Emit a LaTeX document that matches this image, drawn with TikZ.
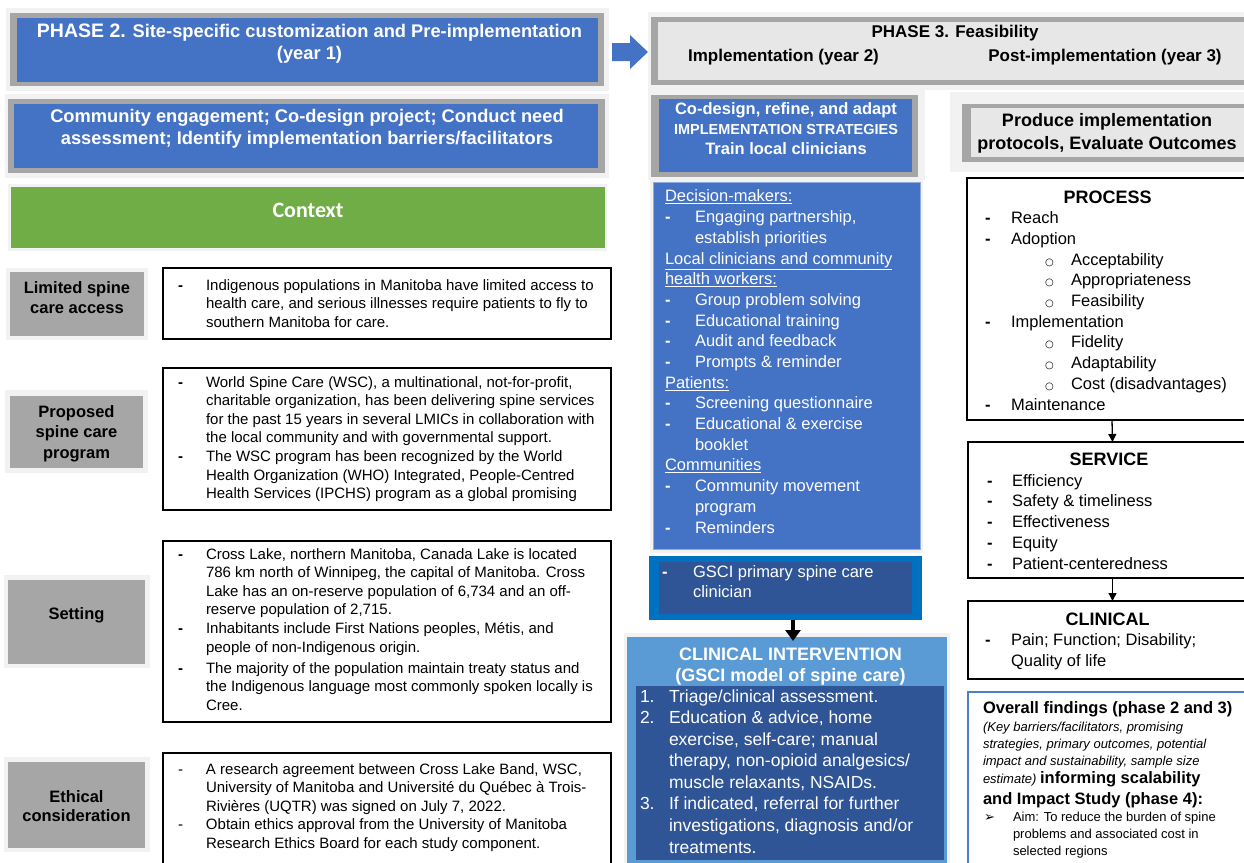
\documentclass[tikz,border=0pt]{standalone}
\usepackage{fontspec}
\setmainfont{Liberation Sans}
\newfontfamily\dejavu{DejaVu Sans}
\newfontfamily\carlito{Carlito}
\usetikzlibrary{fit,arrows.meta}
\definecolor{blueA}{HTML}{4472C4}
\definecolor{grayB}{HTML}{A6A6A6}
\definecolor{lightA}{HTML}{F2F2F2}
\definecolor{phgray}{HTML}{E7E7E7}
\definecolor{greenA}{HTML}{70AD47}
\definecolor{gsciout}{HTML}{0070C0}
\definecolor{darkB}{HTML}{2F5597}
\definecolor{clinB}{HTML}{5B9BD5}
\definecolor{ovb}{HTML}{4A7FD0}
\newcommand{\dl}[2][28pt]{\makebox[#1][l]{\textbf{-}}#2}
\newcommand{\dlt}[2][28pt]{\makebox[#1][l]{-}#2}
\newcommand{\cl}[2][28pt]{\hspace*{#1}#2}
\newcommand{\circsym}{{\dejavu\fontsize{10}{10}\selectfont ○}}
\newcommand{\subl}[1]{\hspace*{60pt}\makebox[26pt][l]{\circsym}#1}
\begin{document}
\begin{tikzpicture}[x=1pt,y=-1pt,
  box/.style={inner sep=0pt,outer sep=0pt},
  tx/.style={inner sep=0pt,outer sep=0pt,anchor=base west,align=left},
  tc/.style={inner sep=0pt,outer sep=0pt,anchor=base,align=center},
  wbox/.style={box,draw=black,line width=1.3pt,fill=white},
  f15/.style={tx,font=\fontsize{15}{18.6}\selectfont},
  lab/.style={tc,font=\bfseries\fontsize{16.5}{20.5}\selectfont},
  hdw/.style={tc,text=white,font=\bfseries\fontsize{18.3}{22}\selectfont},
  hdk/.style={tc,text=black,font=\bfseries\fontsize{17}{24}\selectfont},
  arr/.style={-{Triangle[width=8pt,length=8pt]},line width=1.3pt},
]
\useasboundingbox (0,0) rectangle (1244,862);
\clip (0,0) rectangle (1244,862);
\fill[white] (0,0) rectangle (1244,862);

% (text nodes are anchored at the baseline of their LAST line)

% ---------- Phase 2 header
\node[box,fill=lightA,fit={(6,8)(609,91)}] (p2o) {};
\node[box,fill=grayB,fit={(10,13)(604,86)}] (p2g) {};
\node[box,fill=blueA,fit={(17,18)(598,82)}] (p2) {};
\node[hdw] (p2t) at (309.5,59) {{\fontsize{19.5}{22}\selectfont PHASE 2.} Site-specific customization and Pre-implementation\\(year 1)};

% block arrow
\fill[blueA] (612,43) -- (630,43) -- (630,35) -- (648,52) -- (630,69) -- (630,61) -- (612,61) -- cycle;

% ---------- Community engagement
\node[box,fill=lightA,fit={(5,94)(609,178)}] (ceo) {};
\node[box,fill=grayB,fit={(8,99)(605,173)}] (ceg) {};
\node[box,fill=blueA,fit={(14,104)(598,168)}] (ce) {};
\node[hdw] (cet) at (307,144) {Community engagement; Co-design project; Conduct need\\assessment; Identify implementation barriers/facilitators};

% ---------- Context
\node[box,fill=lightA,fit={(8,184)(607,251)}] (cxo) {};
\node[box,fill=greenA,fit={(11,187)(605,248)}] (cx) {};
\node[tc,text=white,font=\carlito\bfseries\fontsize{22}{26}\selectfont] (cxt) at (308,217) {Context};

% ---------- Left labels
\node[box,fill=lightA,fit={(6,268)(148,340)}] (l1o) {};
\node[box,fill=grayB,fit={(10,272)(144,336)}] (l1) {};
\node[lab] (l1t) at (77,313.5) {Limited spine\\care access};
\node[box,fill=lightA,fit={(5,390)(148,473)}] (l2o) {};
\node[box,fill=grayB,fit={(10,396)(143,468)}] (l2) {};
\node[lab] (l2t) at (76.5,458) {Proposed\\spine care\\program};
\node[box,fill=lightA,fit={(4,575)(150,668)}] (l3o) {};
\node[box,fill=grayB,fit={(8,580)(145,664)}] (l3) {};
\node[lab] (l3t) at (76.5,619) {Setting};
\node[box,fill=lightA,fit={(4,757)(150,852)}] (l4o) {};
\node[box,fill=grayB,fit={(8,762)(145,848)}] (l4) {};
\node[lab,font=\bfseries\fontsize{16.5}{19.5}\selectfont] (l4t) at (76.5,821.5) {Ethical\\consideration};

% ---------- Left text boxes
\node[wbox,fit={(163,268)(611,339)}] (tb1) {};
\node[f15] (tb1t) at (178,327.2) {\dl{Indigenous populations in Manitoba have limited access to}\\
\cl{health care, and serious illnesses require patients to fly to}\\
\cl{southern Manitoba for care.}};
\node[wbox,fit={(163,368)(611,510)}] (tb2) {};
\node[f15] (tb2t) at (178,498.6) {\dl{World Spine Care (WSC), a multinational, not-for-profit,}\\
\cl{charitable organization, has been delivering spine services}\\
\cl{for the past 15 years in several LMICs in collaboration with}\\
\cl{the local community and with governmental support.}\\
\dl{The WSC program has been recognized by the World}\\
\cl{Health Organization (WHO) Integrated, People-Centred}\\
\cl{Health Services (IPCHS) program as a global promising}};
\node[wbox,fit={(163,541)(611,722)}] (tb3) {};
\node[f15] (tb3t) at (178,710.3) {\dl{Cross Lake, northern Manitoba, Canada Lake is located}\\
\cl{786 km north of Winnipeg, the capital of Manitoba. Cross}\\
\cl{Lake has an on-reserve population of 6,734 and an off-}\\
\cl{reserve population of 2,715.}\\
\dl{Inhabitants include First Nations peoples, Métis, and}\\
\cl{people of non-Indigenous origin.}\\[2.5pt]
\dl{The majority of the population maintain treaty status and}\\
\cl{the Indigenous language most commonly spoken locally is}\\
\cl{Cree.}};
\node[wbox,fit={(163,753)(611,870)}] (tb4) {};
\node[f15] (tb4t) at (178,848.4) {\dlt{A research agreement between Cross Lake Band, WSC,}\\
\cl{University of Manitoba and Université du Québec à Trois-}\\
\cl{Rivières (UQTR) was signed on July 7, 2022.}\\
\dlt{Obtain ethics approval from the University of Manitoba}\\
\cl{Research Ethics Board for each study component.}};

% ---------- Phase 3 header
\node[box,fill=lightA,fit={(648,12)(1250,90)}] (p3o) {};
\node[box,fill=grayB,fit={(651,17)(1250,85)}] (p3g) {};
\node[box,fill=phgray,fit={(658,22)(1250,80)}] (p3) {};
\node[hdk] (p3t) at (955,37) {PHASE 3. Feasibility};
\node[hdk] (p3a) at (783.5,61) {Implementation (year 2)};
\node[hdk] (p3b) at (1105,61) {Post-implementation (year 3)};

% ---------- Co-design box
\node[box,fill=lightA,fit={(648,90)(925,180)}] (cdo) {};
\node[box,fill=grayB,fit={(651,95)(918,177)}] (cdg) {};
\node[box,fill=blueA,fit={(659,99)(912,172)}] (cd) {};
\node[tc,text=white,font=\bfseries\fontsize{16.5}{20}\selectfont] (cdt) at (786,154)
  {Co-design, refine, and adapt\\{\fontsize{14.5}{20}\selectfont IMPLEMENTATION STRATEGIES}\\Train local clinicians};

% ---------- Produce box
\node[box,fill=lightA,fit={(950,92)(1250,172)}] (pro) {};
\node[box,fill=grayB,fit={(962,104)(1250,162)}] (prg) {};
\node[box,fill=phgray,fit={(971,108)(1250,157)}] (pr) {};
\node[tc,font=\bfseries\fontsize{18}{23}\selectfont] (prt) at (1107,149) {Produce implementation\\protocols, Evaluate Outcomes};

% ---------- Strategies box
\node[box,fill=lightA,fit={(650,178)(923,553)}] (sto) {};
\node[box,fill=blueA,draw=blueA!60!white,line width=0.8pt,fit={(653,182)(920,549)}] (st) {};
\node[tx,text=white,font=\fontsize{16.5}{20.69}\selectfont] (stt) at (665,533)
{\underline{Decision-makers:}\\
\dl[30pt]{Engaging partnership,}\\
\cl[30pt]{establish priorities}\\
\underline{Local clinicians and community}\\
\underline{health workers:}\\
\dl[30pt]{Group problem solving}\\
\dl[30pt]{Educational training}\\
\dl[30pt]{Audit and feedback}\\
\dl[30pt]{Prompts \& reminder}\\
\underline{Patients:}\\
\dl[30pt]{Screening questionnaire}\\
\dl[30pt]{Educational \& exercise}\\
\cl[30pt]{booklet}\\
\underline{Communities}\\
\dl[30pt]{Community movement}\\
\cl[30pt]{program}\\
\dl[30pt]{Reminders}};

% ---------- GSCI box
\node[box,fill=gsciout,fit={(649,556)(922,620)}] (gsci) {};
\node[box,fill=darkB,fit={(659,562)(912,614)}] (gscii) {};
\node[tx,text=white,font=\fontsize{16.5}{20}\selectfont] (gscit) at (662,597)
{\dl[31pt]{GSCI primary spine care}\\\cl[31pt]{clinician}};

% ---------- Clinical intervention
\node[box,fill=lightA,fit={(624,633)(950,870)}] (cio) {};
\node[box,fill=clinB,fit={(627,637)(947,870)}] (ci) {};
\node[box,fill=darkB,fit={(636,686)(944,860)}] (cii) {};
\node[tc,text=white,font=\bfseries\fontsize{18}{21}\selectfont] (cit) at (790.5,681)
{CLINICAL INTERVENTION\\(GSCI model of spine care)};
\node[tx,text=white,font=\fontsize{17.5}{21.57}\selectfont] (ciit) at (640,853)
{\makebox[29pt][l]{1.}Triage/clinical assessment.\\
\makebox[29pt][l]{2.}Education \& advice, home\\
\cl[29pt]{exercise, self-care; manual}\\
\cl[29pt]{therapy, non-opioid analgesics/}\\
\cl[29pt]{muscle relaxants, NSAIDs.}\\
\makebox[29pt][l]{3.}If indicated, referral for further\\
\cl[29pt]{investigations, diagnosis and/or}\\
\cl[29pt]{treatments.}};

\draw[line width=4pt,-{Triangle[width=15pt,length=11pt]},shorten >=-4pt] ([xshift=7.5pt]gsci.south) -- ([xshift=6pt]ci.north);

% ---------- PROCESS / SERVICE / CLINICAL
\node[wbox,fit={(967,178)(1257,420)}] (proc) {};
\node[tc,font=\bfseries\fontsize{18}{20}\selectfont] (proct) at (1107.5,203) {PROCESS};
\node[tx,font=\fontsize{16.5}{20.67}\selectfont] (procl) at (985,410)
{\dl[26pt]{Reach}\\
\dl[26pt]{Adoption}\\
\subl{Acceptability}\\
\subl{Appropriateness}\\
\subl{Feasibility}\\
\dl[26pt]{Implementation}\\
\subl{Fidelity}\\
\subl{Adaptability}\\
\subl{Cost (disadvantages)}\\
\dl[26pt]{Maintenance}};

\node[wbox,fit={(968,442)(1257,578)}] (serv) {};
\node[tc,font=\bfseries\fontsize{18}{20}\selectfont] (servt) at (1109,465) {SERVICE};
\node[tx,font=\fontsize{16.5}{20.75}\selectfont] (servl) at (987,569)
{\dl[25pt]{Efficiency}\\
\dl[25pt]{Safety \& timeliness}\\
\dl[25pt]{Effectiveness}\\
\dl[25pt]{Equity}\\
\dl[25pt]{Patient-centeredness}};

\node[wbox,fit={(968,601)(1257,679)}] (clin) {};
\node[tc,font=\bfseries\fontsize{18}{20}\selectfont] (clint) at (1107.5,625) {CLINICAL};
\node[tx,font=\fontsize{16.5}{21}\selectfont] (clinl) at (985,666)
{\dl[26pt]{Pain; Function; Disability;}\\\cl[26pt]{Quality of life}};

\draw[arr] (proc.south) -- (serv.north);
\draw[arr] (serv.south) -- (clin.north);

% ---------- Overall findings
\node[box,draw=ovb,line width=2pt,fill=white,fit={(968,692)(1258,880)}] (ov) {};
\node[tx,font=\fontsize{13}{17}\selectfont] (ovt) at (983,855)
{{\bfseries\fontsize{16.5}{17}\selectfont Overall findings (phase 2 and 3)}\\[1pt]
{\itshape (Key barriers/facilitators, promising}\\
{\itshape strategies, primary outcomes, potential}\\
{\itshape impact and sustainability, sample size}\\[1pt]
{\itshape estimate)} {\bfseries\fontsize{16.5}{17}\selectfont informing scalability}\\[4pt]
{\bfseries\fontsize{16.5}{17}\selectfont and Impact Study (phase 4):}\\
\makebox[30pt][l]{\hspace*{1pt}{\dejavu\fontsize{13}{13}\selectfont ➢}}Aim: To reduce the burden of spine\\
\cl[30pt]{problems and associated cost in}\\
\cl[30pt]{selected regions}};

\end{tikzpicture}
\end{document}
